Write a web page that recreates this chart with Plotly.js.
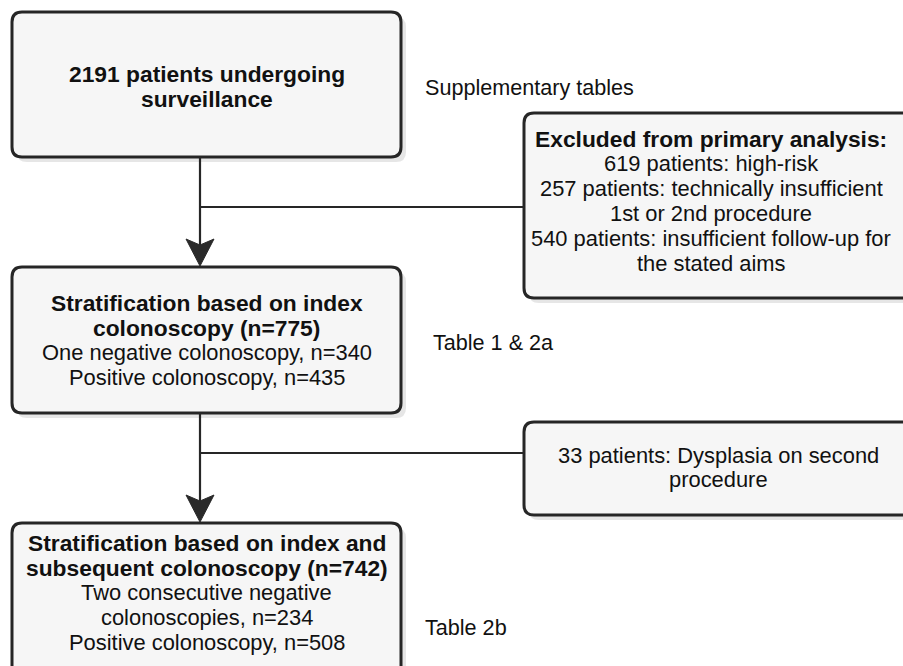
<!DOCTYPE html>
<html>
<head>
<meta charset="utf-8">
<script src="https://cdn.plot.ly/plotly-3.0.1.min.js"></script>
<style>html,body{margin:0;padding:0;background:#fff;}#chart{width:903px;height:666px;}</style>
</head>
<body>
<div id="chart"></div>
<script>
// ---- content ----
const mainBold = [
  ["2191 patients undergoing", "surveillance"],
  ["Stratification based on index", "colonoscopy (n=775)"],
  ["Stratification based on index and", "subsequent colonoscopy (n=742)"]
];
const mainPlain = [
  [],
  ["One negative colonoscopy, n=340", "Positive colonoscopy, n=435"],
  ["Two consecutive negative", "colonoscopies, n=234", "Positive colonoscopy, n=508"]
];
const sideBold = [
  ["Excluded from primary analysis:"],
  []
];
const sidePlain = [
  ["619 patients: high-risk", "257 patients: technically insufficient", "1st or 2nd procedure",
   "540 patients: insufficient follow-up for", "the stated aims"],
  ["33 patients: Dysplasia on second", "procedure"]
];
const tableLabels = ["Supplementary tables", "Table 1 & 2a", "Table 2b"];

// ---- layout geometry (pixels) ----
const mainBoxes = [[12, 12, 401, 157], [12, 267, 401, 413], [12, 523, 401, 690]];
const mainTextTop = [74, 303, 543];
const sideBoxes = [[524, 113, 915, 298], [524, 422, 915, 515]];
const sideTextTop = [139, 455];
const sideTextX = [711, 718];
const tableLabelPos = [[423, 87], [431, 342], [423, 627]];
const lineGap = 24.8;
const connectors = [{y0: 157, y1: 266, hy: 207}, {y0: 413, y1: 522, hy: 453}];
const cx = 200;

function rr(x0, y0, x1, y1, r) {
  return `M ${x0 + r},${y0} L ${x1 - r},${y0} Q ${x1},${y0} ${x1},${y0 + r} L ${x1},${y1 - r} Q ${x1},${y1} ${x1 - r},${y1} ` +
         `L ${x0 + r},${y1} Q ${x0},${y1} ${x0},${y1 - r} L ${x0},${y0 + r} Q ${x0},${y0} ${x0 + r},${y0} Z`;
}

const shapes = [];
const annotations = [];
const FONT = "Liberation Sans, Arial, sans-serif";
const INK = "#111";
const EDGE = "#262626";
const BOLD_SIZE = 22.8, PLAIN_SIZE = 21.9;

function addBox(b) {
  const [x0, y0, x1, y1] = b;
  shapes.push({type: "path", xref: "x", yref: "y", path: rr(x0 + 5, y0 + 5, x1 + 5, y1 + 5, 10),
               fillcolor: "#e6e6e6", line: {width: 0}, layer: "below"});
  shapes.push({type: "path", xref: "x", yref: "y", path: rr(x0, y0, x1, y1, 10),
               fillcolor: "#f6f6f6", line: {color: EDGE, width: 3}, layer: "below"});
}

function addLines(x, yTop, bold, plain) {
  let y = yTop;
  bold.forEach(t => {
    annotations.push({x: x, y: y, xref: "x", yref: "y", text: "<b>" + t + "</b>", showarrow: false,
                      xanchor: "center", yanchor: "middle", font: {family: FONT, size: BOLD_SIZE, color: INK}});
    y += lineGap;
  });
  plain.forEach(t => {
    annotations.push({x: x, y: y, xref: "x", yref: "y", text: t, showarrow: false,
                      xanchor: "center", yanchor: "middle", font: {family: FONT, size: PLAIN_SIZE, color: INK}});
    y += lineGap;
  });
}

// connectors
connectors.forEach(c => {
  shapes.push({type: "line", x0: cx, x1: cx, y0: c.y0, y1: c.y1 - 20, line: {color: EDGE, width: 2.2}});
  shapes.push({type: "line", x0: cx, x1: 524, y0: c.hy, y1: c.hy, line: {color: EDGE, width: 2.2}});
  shapes.push({type: "path",
               path: `M ${cx - 14},${c.y1 - 27} L ${cx},${c.y1 - 21} L ${cx + 14},${c.y1 - 27} L ${cx},${c.y1} Z`,
               fillcolor: "#2a2a2a", line: {color: "#2a2a2a", width: 1}});
});

mainBoxes.forEach((b, i) => { addBox(b); addLines((b[0] + b[2]) / 2, mainTextTop[i], mainBold[i], mainPlain[i]); });
sideBoxes.forEach((b, i) => { addBox(b); addLines(sideTextX[i], sideTextTop[i], sideBold[i], sidePlain[i]); });

tableLabels.forEach((t, i) => {
  annotations.push({x: tableLabelPos[i][0], y: tableLabelPos[i][1], xref: "x", yref: "y", text: t, showarrow: false,
                    xanchor: "left", yanchor: "middle", font: {family: FONT, size: 21.6, color: INK}});
});

const layout = {
  width: 903, height: 666,
  margin: {l: 0, r: 0, t: 0, b: 0},
  paper_bgcolor: "#fff", plot_bgcolor: "#fff",
  xaxis: {range: [0, 903], visible: false, fixedrange: true},
  yaxis: {range: [666, 0], visible: false, fixedrange: true},
  shapes: shapes,
  annotations: annotations,
  showlegend: false
};

Plotly.newPlot("chart", [{x: [], y: [], type: "scatter", hoverinfo: "skip"}], layout, {staticPlot: true, displayModeBar: false});
</script>
</body>
</html>
